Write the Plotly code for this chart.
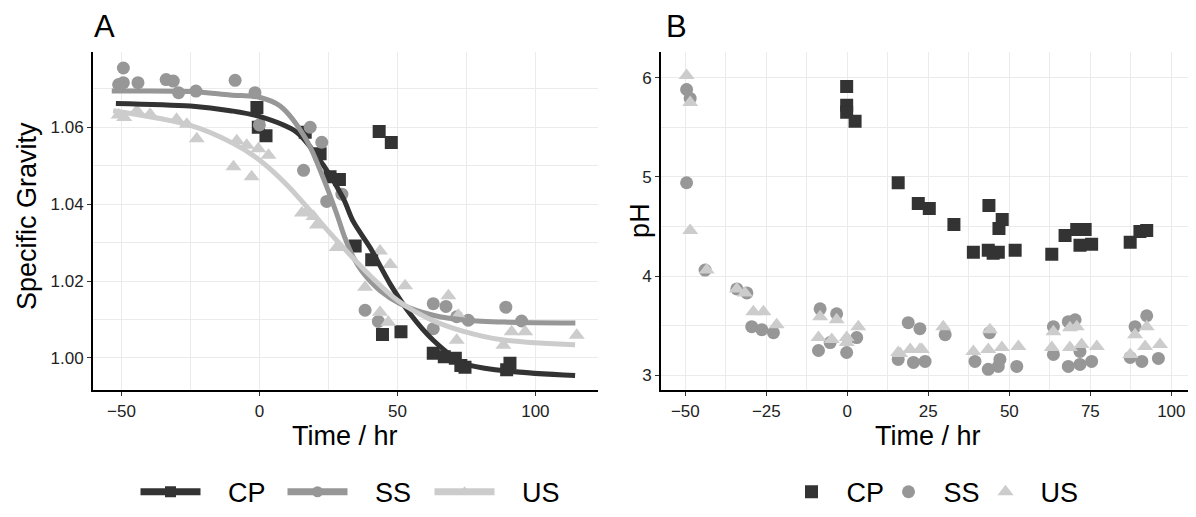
import plotly.graph_objects as go

# ---------------- Panel A: specific gravity ----------------
cp_sg_time = [-0.9, -0.4, 2.4, 16.6, 22.0, 25.6, 29.0, 34.7, 40.7, 43.4, 47.8, 44.6, 51.3, 63.0, 67.0, 71.0, 73.0, 74.5, 89.6, 90.8]
cp_sg = [1.0651, 1.0600, 1.0578, 1.0587, 1.0531, 1.0471, 1.0464, 1.0291, 1.0255, 1.0589, 1.0560, 1.0061, 1.0068, 1.0012, 1.0003, 0.9999, 0.9980, 0.9976, 0.9969, 0.9986]

ss_sg_time = [-51.0, -49.3, -49.3, -44.0, -33.8, -31.2, -29.3, -23.0, -8.8, -1.6, 0.0, 18.4, 22.6, 16.0, 24.4, 29.9, 38.3, 43.1, 63.0, 67.6, 63.0, 71.5, 75.7, 89.3, 95.0]
ss_sg = [1.0711, 1.0754, 1.0716, 1.0716, 1.0724, 1.0720, 1.0690, 1.0694, 1.0722, 1.0690, 1.0606, 1.0600, 1.0561, 1.0488, 1.0407, 1.0426, 1.0124, 1.0095, 1.0141, 1.0134, 1.0076, 1.0107, 1.0098, 1.0132, 1.0096]

us_sg_time = [-51.0, -49.0, -44.4, -39.6, -30.0, -26.3, -22.7, -9.4, -8.2, -4.6, -2.8, -0.4, 3.3, 15.4, 19.6, 17.2, 20.8, 28.0, 38.3, 43.7, 47.4, 52.8, 43.7, 46.7, 68.5, 72.1, 71.5, 88.4, 91.4, 96.3, 115.0]
us_sg = [1.0632, 1.0625, 1.0643, 1.0634, 1.0621, 1.0608, 1.0570, 1.0497, 1.0565, 1.0553, 1.0471, 1.0544, 1.0527, 1.0377, 1.0368, 1.0381, 1.0346, 1.0287, 1.0184, 1.0278, 1.0243, 1.0188, 1.0119, 1.0093, 1.0162, 1.0111, 1.0046, 1.0033, 1.0068, 1.0068, 1.0059]

# fitted curves
cp_fit_time = [-52.0, -25.0, -10.6, 0.0, 13.5, 23.2, 30.4, 34.0, 40.1, 47.4, 54.6, 63.0, 74.0, 88.4, 114.4]
cp_fit = [1.0662, 1.0655, 1.0643, 1.0628, 1.0587, 1.0501, 1.0415, 1.0355, 1.0287, 1.0192, 1.0115, 1.0046, 0.9986, 0.9967, 0.9954]
ss_fit_time = [-53.5, -25.0, -10.6, 0.0, 7.5, 17.2, 23.2, 28.0, 31.0, 34.0, 37.1, 43.7, 51.0, 63.0, 75.0, 90.0, 114.5]
ss_fit = [1.0694, 1.0693, 1.0684, 1.0678, 1.0655, 1.0565, 1.0467, 1.0375, 1.0312, 1.0262, 1.0226, 1.0175, 1.0141, 1.0111, 1.0098, 1.0093, 1.0091]
us_fit_time = [-53.0, -25.0, -10.0, 0.0, 10.0, 20.0, 30.0, 40.0, 50.0, 62.0, 74.0, 88.0, 114.4]
us_fit = [1.0643, 1.0605, 1.0560, 1.0515, 1.0450, 1.0370, 1.0290, 1.0215, 1.0150, 1.0100, 1.0069, 1.0047, 1.0034]

# ---------------- Panel B: pH ----------------
cp_ph_time = [-0.2, -0.2, -0.2, 2.4, 15.7, 21.9, 25.3, 32.9, 38.9, 43.5, 43.7, 46.6, 46.8, 47.8, 45.0, 51.8, 63.1, 67.2, 70.8, 71.8, 73.4, 75.4, 87.3, 90.3, 92.4]
cp_ph = [5.91, 5.72, 5.65, 5.56, 4.94, 4.73, 4.68, 4.52, 4.24, 4.26, 4.71, 4.24, 4.48, 4.57, 4.23, 4.26, 4.22, 4.41, 4.47, 4.31, 4.47, 4.32, 4.34, 4.45, 4.46]

ss_ph_time = [-49.6, -48.5, -49.6, -43.9, -34.1, -31.0, -29.5, -26.4, -22.8, -8.4, -3.3, -8.9, -5.3, -0.2, 2.9, 18.8, 22.4, 15.7, 20.4, 24.0, 30.2, 39.4, 43.5, 46.6, 47.1, 43.9, 52.3, 63.6, 63.6, 68.2, 70.3, 68.2, 71.8, 75.4, 71.8, 88.8, 92.4, 90.9, 87.3, 96.0]
ss_ph = [5.88, 5.79, 4.94, 4.06, 3.87, 3.83, 3.49, 3.46, 3.43, 3.67, 3.62, 3.25, 3.33, 3.23, 3.38, 3.53, 3.47, 3.16, 3.13, 3.14, 3.41, 3.14, 3.06, 3.09, 3.16, 3.43, 3.09, 3.49, 3.21, 3.54, 3.56, 3.09, 3.11, 3.14, 3.24, 3.49, 3.60, 3.14, 3.18, 3.17]

us_ph_time = [-49.6, -48.5, -48.5, -43.4, -34.1, -31.6, -29.0, -25.9, -21.8, -8.4, -3.3, -8.9, -4.8, -0.2, -0.2, 3.4, 15.7, 19.4, 22.4, 16.3, 23.0, 29.6, 38.9, 44.0, 43.5, 47.7, 52.8, 63.1, 63.6, 68.7, 68.7, 70.8, 72.3, 77.0, 87.3, 88.8, 92.4, 91.9, 96.5]
us_ph = [6.02, 5.75, 4.46, 4.06, 3.87, 3.83, 3.64, 3.64, 3.51, 3.59, 3.56, 3.38, 3.36, 3.38, 3.33, 3.49, 3.23, 3.26, 3.26, 3.22, 3.26, 3.49, 3.24, 3.46, 3.26, 3.28, 3.29, 3.28, 3.44, 3.28, 3.48, 3.49, 3.31, 3.29, 3.21, 3.41, 3.49, 3.29, 3.31]

groups = ["CP", "SS", "US"]
colors = {"CP": "#333333", "SS": "#979797", "US": "#cccccc"}
symbols = {"CP": "square", "SS": "circle", "US": "triangle-up"}
sizes = {"CP": 13, "SS": 13, "US": 14}

FONT = "Liberation Sans, Arial, sans-serif"

# page has an 8px body margin: figure sized to fit the window
OFF = 8
W, H = 1196 - OFF, 517 - OFF


def fx(X):
    return (X - OFF) / W


def fy(Y):
    return 1 - (Y - OFF) / H


sg_pts = {"CP": (cp_sg_time, cp_sg), "SS": (ss_sg_time, ss_sg), "US": (us_sg_time, us_sg)}
sg_fit = {"CP": (cp_fit_time, cp_fit), "SS": (ss_fit_time, ss_fit), "US": (us_fit_time, us_fit)}
ph_pts = {"CP": (cp_ph_time, cp_ph), "SS": (ss_ph_time, ss_ph), "US": (us_ph_time, us_ph)}

fig = go.Figure()

for g in groups:
    x, y = sg_pts[g]
    fig.add_trace(go.Scatter(x=x, y=y, mode="markers", xaxis="x", yaxis="y",
                             marker=dict(symbol=symbols[g], size=sizes[g], color=colors[g]),
                             showlegend=False, hoverinfo="x+y"))
for g in groups:
    x, y = sg_fit[g]
    fig.add_trace(go.Scatter(x=x, y=y, mode="lines", xaxis="x", yaxis="y",
                             line=dict(color=colors[g], width=5, shape="spline", smoothing=0.9),
                             showlegend=False, hoverinfo="skip"))
for g in groups:
    fig.add_trace(go.Scatter(x=[None], y=[None], mode="lines+markers", xaxis="x", yaxis="y",
                             name="\u00a0\u00a0\u00a0" + g, legend="legend",
                             line=dict(color=colors[g], width=7),
                             marker=dict(symbol=symbols[g], size=11, color=colors[g])))
for g in groups:
    x, y = ph_pts[g]
    fig.add_trace(go.Scatter(x=x, y=y, mode="markers", xaxis="x2", yaxis="y2",
                             name="\u00a0\u00a0" + g, legend="legend2",
                             marker=dict(symbol=symbols[g], size=sizes[g], color=colors[g])))

grid = "#ebebeb"
axis_common = dict(showline=True, linecolor="black", linewidth=2, ticks="outside", ticklen=4,
                   tickcolor="#333333", tickwidth=1, gridcolor=grid, gridwidth=1.2, zeroline=False,
                   tickfont=dict(family=FONT, size=17, color="#222222"), mirror=False)

plot_top = fy(52.7)
plot_bot = fy(394)

fig.update_layout(
    width=W, height=H,
    margin=dict(l=0, r=0, t=0, b=0),
    paper_bgcolor="white", plot_bgcolor="white",
    font=dict(family=FONT, color="black"),
    xaxis=dict(domain=[fx(93), fx(598)], range=[-60.3, 122.7], tickvals=[-50, 0, 50, 100],
               minor=dict(tickvals=[-25, 25, 75], showgrid=True, gridcolor=grid, gridwidth=1.2, ticks=""),
               anchor="y", **axis_common),
    yaxis=dict(domain=[plot_bot, plot_top], range=[0.9916, 1.0795], tickvals=[1.00, 1.02, 1.04, 1.06],
               ticktext=["1.00", "1.02", "1.04", "1.06"],
               minor=dict(tickvals=[0.99, 1.01, 1.03, 1.05, 1.07], showgrid=True, gridcolor=grid, gridwidth=1.2, ticks=""),
               anchor="x", **axis_common),
    xaxis2=dict(domain=[fx(661), fx(1195)], range=[-57.5, 107.3], tickvals=[-50, -25, 0, 25, 50, 75, 100],
                minor=dict(tickvals=[-37.5, -12.5, 12.5, 37.5, 62.5, 87.5], showgrid=True, gridcolor=grid, gridwidth=1.2, ticks=""),
                anchor="y2", **axis_common),
    yaxis2=dict(domain=[plot_bot, plot_top], range=[2.85, 6.255], tickvals=[3, 4, 5, 6],
                minor=dict(tickvals=[3.5, 4.5, 5.5], showgrid=True, gridcolor=grid, gridwidth=1.2, ticks=""),
                anchor="x2", **axis_common),
    legend=dict(orientation="h", x=fx(356), y=fy(497), xanchor="center", yanchor="middle",
                font=dict(family=FONT, size=27, color="black"), itemwidth=60,
                entrywidth=72, entrywidthmode="pixels", bgcolor="rgba(0,0,0,0)"),
    legend2=dict(orientation="h", x=fx(937), y=fy(497), xanchor="center", yanchor="middle",
                 font=dict(family=FONT, size=27, color="black"), itemwidth=30,
                 entrywidth=52, entrywidthmode="pixels", bgcolor="rgba(0,0,0,0)"),
)

annotations = [
    dict(text="A", x=fx(92), y=fy(27), xanchor="left", yanchor="middle", font=dict(size=31)),
    dict(text="B", x=fx(664), y=fy(27), xanchor="left", yanchor="middle", font=dict(size=31)),
    dict(text="Time / hr", x=fx(345), y=fy(440), xanchor="center", yanchor="middle", font=dict(size=27)),
    dict(text="Time / hr", x=fx(928), y=fy(440), xanchor="center", yanchor="middle", font=dict(size=27)),
    dict(text="Specific Gravity", x=fx(27), y=fy(218), xanchor="center", yanchor="middle",
         textangle=-90, font=dict(size=27)),
    dict(text="pH", x=fx(640), y=fy(223), xanchor="center", yanchor="middle",
         textangle=-90, font=dict(size=27)),
]
for a in annotations:
    a.update(xref="paper", yref="paper", showarrow=False)
    a["font"].update(family=FONT, color="black")
fig.update_layout(annotations=annotations)

fig.write_html("out.html")
